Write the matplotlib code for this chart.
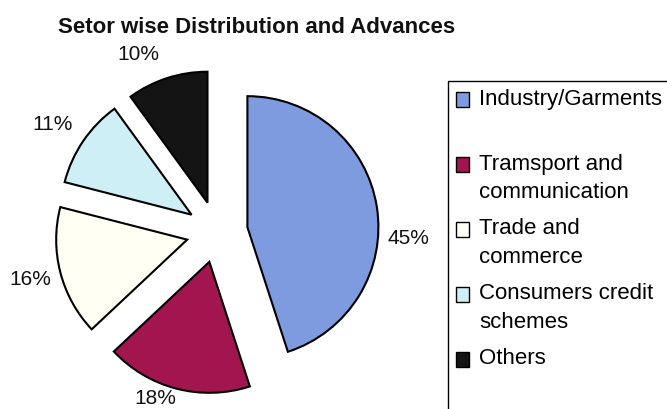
import matplotlib
matplotlib.use("Agg")
import matplotlib.pyplot as plt
from matplotlib.patches import Rectangle, Wedge
from matplotlib.legend_handler import HandlerPatch
import numpy as np

# ---- data ----
categories = ["Industry/Garments", "Tramsport and\ncommunication", "Trade and\ncommerce",
              "Consumers credit\nschemes", "Others"]
shares = [45, 18, 16, 11, 10]
pct_labels = ["45%", "18%", "16%", "11%", "10%"]
title = "Setor wise Distribution and Advances"

# ---- style ----
colors = ["#7f9be0", "#a3154f", "#fffff4", "#cdeff5", "#141414"]
label_nudge_deg = [-11, -6, 0, 1, 6]
label_dist = [1.46, 1.36, 1.47, 1.50, 1.48]

plt.rcParams['font.family'] = ['Liberation Sans', 'DejaVu Sans']

W, H = 667, 409
fig = plt.figure(figsize=(W / 100, H / 100), dpi=100)
cx, cy, R = 217, 232, 131
half = 2 * R
ax = fig.add_axes([(cx - half) / W, (H - cy - half) / H, 2 * half / W, 2 * half / H])

wedges, texts = ax.pie(shares, labels=pct_labels, colors=colors, startangle=90,
                       counterclock=False, explode=[0.235] * len(shares),
                       wedgeprops=dict(edgecolor="black", linewidth=1.5),
                       textprops=dict(fontsize=15, color="#111111"), labeldistance=1.25)
ax.set_xlim(-2, 2)
ax.set_ylim(-2, 2)
ax.set_aspect("equal")
ax.axis("off")

for w, t, nd, d in zip(wedges, texts, label_nudge_deg, label_dist):
    mid = np.deg2rad((w.theta1 + w.theta2) / 2 + nd)
    t.set_position((d * np.cos(mid), d * np.sin(mid)))
    t.set_ha("center")
    t.set_va("center")

fig.text(257 / W, 1 - 17 / H, title, ha="center", va="top", fontsize=16,
         fontweight="bold", color="#111111")


class TopAlignedHandler(HandlerPatch):
    def __init__(self, shift, **kw):
        super().__init__(**kw)
        self.shift = shift

    def create_artists(self, legend, orig_handle, xdescent, ydescent, width, height,
                       fontsize, trans):
        p = Rectangle((-xdescent, -ydescent + self.shift), width, height)
        self.update_prop(p, orig_handle, legend)
        p.set_linewidth(1.0)
        p.set_transform(trans)
        return [p]


# legend frame running off the right and bottom edges, as in the reference
lx, ly = 448 / W, 1 - 81 / H
fig.patches.append(Rectangle((lx, -0.2), 1.5, ly + 0.2, transform=fig.transFigure,
                             facecolor="white", edgecolor="black", linewidth=1.0,
                             zorder=0.5))

legend_labels = [c if "\n" in c else c + "\n" for c in categories]
leg = fig.legend(wedges, legend_labels, loc="upper left",
                 bbox_to_anchor=(lx, ly), bbox_transform=fig.transFigure,
                 prop=dict(size=16), frameon=False,
                 borderpad=0.34, borderaxespad=0,
                 handlelength=0.62, handleheight=0.68, handletextpad=0.43,
                 labelspacing=0.68, handler_map={Wedge: TopAlignedHandler(10)})
for t in leg.get_texts():
    t.set_linespacing(1.49)

fig.savefig("out.png", dpi=100)
